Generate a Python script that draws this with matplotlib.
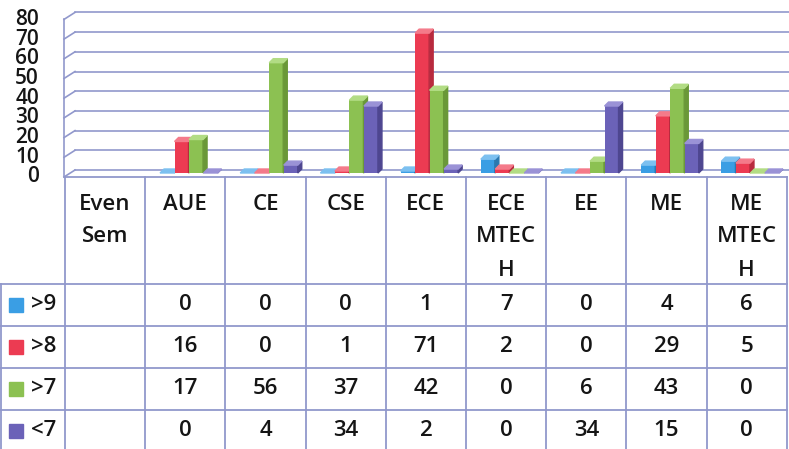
import textwrap
import matplotlib.pyplot as plt
from matplotlib.patches import Polygon, Rectangle

corner = "Even Sem"
depts = ["AUE", "CE", "CSE", "ECE", "ECE MTECH", "EE", "ME", "ME MTECH"]
series = [">9", ">8", ">7", "<7"]
gt9 = [0, 0, 0, 1, 7, 0, 4, 6]
gt8 = [16, 0, 1, 71, 2, 0, 29, 5]
gt7 = [17, 56, 37, 42, 0, 6, 43, 0]
lt7 = [0, 4, 34, 2, 0, 34, 15, 0]
yticks = [0, 10, 20, 30, 40, 50, 60, 70, 80]
data = [gt9, gt8, gt7, lt7]

face = ['#3a9ee4', '#ec3b52', '#8cc152', '#6b62b8']
side = ['#2a78b0', '#b82a3e', '#6a9838', '#4e4690']
topc = ['#7cc0f0', '#f47a8a', '#b2dc84', '#9a92d6']
grid_c = '#9198cc'
txt_c = '#151515'

plt.rcParams['font.family'] = ['Open Sans', 'DejaVu Sans']
fs = 16

W, H = 789, 449
fig = plt.figure(figsize=(W / 100, H / 100), dpi=100)

# layout in pixels
x0, colw = 65, 80.2
ybase, ppu = 173, 1.97
ncol = len(depts) + 1

# table layer (pixel coordinates)
tb = fig.add_axes([0, 0, 1, 1])
tb.set_xlim(0, W)
tb.set_ylim(H, 0)
tb.axis('off')

xr = x0 + ncol * colw
tb.plot([x0, xr], [177, 177], color=grid_c, lw=1.3)
for k in range(ncol + 1):
    x = x0 + k * colw
    tb.plot([x, x], [177, H + 2], color=grid_c, lw=1.3)
row_top, row_h = 284, 42
for j in range(len(series)):
    y = row_top + j * row_h
    tb.plot([0, xr], [y, y], color=grid_c, lw=1.3)
tb.plot([1, 1], [row_top, H + 2], color=grid_c, lw=1.3)

for k, name in enumerate([corner] + depts):
    lines = [p for w in name.split() for p in textwrap.wrap(w, 4)]
    for li, ln in enumerate(lines):
        tb.text(x0 + (k + 0.5) * colw, 204 + 33 * li, ln, ha='center',
                va='center', fontsize=fs, color=txt_c, fontweight='semibold')

for j, (lab, vals) in enumerate(zip(series, data)):
    yc = row_top + j * row_h + row_h / 2
    tb.add_patch(Rectangle((9, yc - 7), 14, 14, color=face[j]))
    tb.text(31, yc, lab, ha='left', va='center', fontsize=fs, color=txt_c,
            fontweight='semibold')
    for k, v in enumerate(vals):
        tb.text(x0 + (k + 1.5) * colw, yc, str(v), ha='center', va='center',
                fontsize=fs, color=txt_c, fontweight='semibold')

# chart layer
ax = fig.add_axes([x0 / W, 1 - 177 / H, (xr - x0) / W, 169 / H])
ax.set_xlim(0, ncol)
ax.set_ylim(-4 / ppu, 165 / ppu)
ax.axis('off')
ax.patch.set_alpha(0)

px = 1 / colw
py = 1 / ppu
for v in yticks:
    vb = v + 3 * py
    vf = v - 4 * py
    ax.plot([10 * px, (W - x0) * px], [vb, vb], color=grid_c, lw=1.2,
            clip_on=False, zorder=1)
    ax.plot([-1 * px, 10 * px], [vf, vb], color=grid_c, lw=1.2,
            clip_on=False, zorder=1)
    ax.text(-26 * px, vf, str(v), ha='right', va='center', fontsize=15,
            color=txt_c, clip_on=False, fontweight='semibold')
ax.plot([-1 * px, -1 * px], [-4 * py, 80 - 4 * py], color=grid_c, lw=1.2,
        clip_on=False, zorder=1)

bw = 14 * px
pitch = 14.5 * px
dx, dy = 4 * px, 4 * py
for i, vals in enumerate(data):
    cx = [k + 1.5 + 3.5 * px + (i - 1.5) * pitch for k in range(len(vals))]
    ax.bar(cx, vals, width=bw, color=face[i], zorder=3 + i)
    for c, v in zip(cx, vals):
        l, r = c - bw / 2, c + bw / 2
        ax.add_patch(Polygon([(r, 0), (r + dx, dy), (r + dx, v + dy), (r, v)],
                             closed=True, color=side[i], zorder=3 + i))
        ax.add_patch(Polygon([(l, v), (r, v), (r + dx, v + dy), (l + dx, v + dy)],
                             closed=True, color=topc[i], zorder=3 + i))

fig.savefig('out.png', dpi=100, facecolor='white')
